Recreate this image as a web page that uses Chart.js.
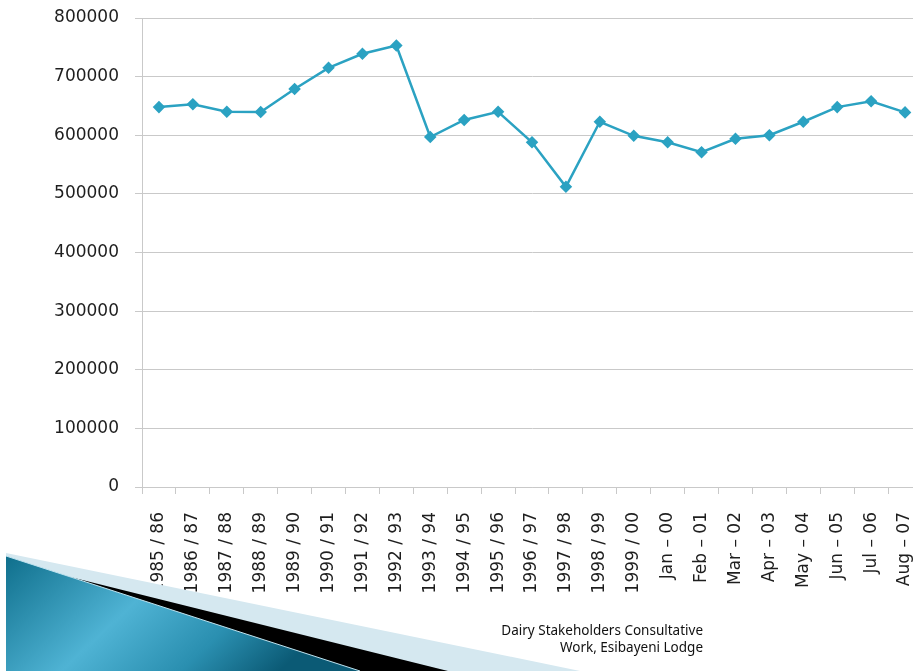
<!DOCTYPE html>
<html>
<head>
<meta charset="utf-8">
<script src="https://cdn.jsdelivr.net/npm/chart.js@4.4.0/dist/chart.umd.min.js"></script>
<style>
  html, body { margin: 0; padding: 0; background: #fff; overflow: hidden; }
  #wrap { position: absolute; left: 0; top: 0; width: 929px; height: 671px; }
  #deco { position: absolute; left: 0; top: 0; width: 913px; height: 671px; pointer-events: none; }
  #note {
    position: absolute; right: 210px; top: 622px;
    font: 13.5px "Noto Sans", sans-serif; color: #111; text-align: right; line-height: 17px;
  }
</style>
</head>
<body>
<div id="wrap"><canvas id="chart"></canvas></div>

<svg id="deco" width="913" height="671">
  <defs>
    <linearGradient id="teal" x1="0" y1="0" x2="1" y2="0.35">
      <stop offset="0" stop-color="#0f6f8c"/>
      <stop offset="0.45" stop-color="#4fb3d4"/>
      <stop offset="0.75" stop-color="#2a8fb0"/>
      <stop offset="1" stop-color="#0b5a75"/>
    </linearGradient>
  </defs>
  <polygon points="6,553 580,671 6,671" fill="#d5e8f0"/>
  <polygon points="6,561 448,671 6,671" fill="#000"/>
  <polygon points="6,556 360,671 6,671" fill="url(#teal)"/>
  <line x1="6" y1="556" x2="360" y2="671" stroke="#bfe3ef" stroke-width="1"/>
</svg>

<div id="note">Dairy Stakeholders Consultative<br>Work, Esibayeni Lodge</div>

<script>
// thin spaces around the separators, as in the source slide
const labels = [
  '1985 / 86', '1986 / 87', '1987 / 88', '1988 / 89', '1989 / 90', '1990 / 91', '1991 / 92',
  '1992 / 93', '1993 / 94', '1994 / 95', '1995 / 96', '1996 / 97', '1997 / 98', '1998 / 99',
  '1999 / 00', 'Jan – 00', 'Feb – 01', 'Mar – 02', 'Apr – 03', 'May – 04', 'Jun – 05',
  'Jul – 06', 'Aug – 07',
];
const production = [
  648000, 653000, 640000, 639500, 679000, 715000, 739000,
  753000, 597000, 626000, 640000, 588000, 512000, 623000,
  599000, 588000, 571000, 594000, 600000, 623000, 648000,
  658000, 639000,
];
const yMin = 0;
const yMax = 800000;
const yStep = 100000;

const lineColor = '#2ba2c2';
const gridColor = '#c9c9c9';
const textColor = '#1e1e1e';

new Chart(document.getElementById('chart'), {
  type: 'line',
  data: {
    labels,
    datasets: [{
      data: production,
      borderColor: lineColor,
      backgroundColor: lineColor,
      borderWidth: 2.5,
      pointStyle: 'rectRot',
      pointRadius: 4.5,
      pointHoverRadius: 4.5,
      tension: 0,
      fill: false,
    }],
  },
  options: {
    responsive: true,
    maintainAspectRatio: false,
    animation: false,
    layout: { padding: { top: 18, right: 0, left: 0, bottom: 0 } },
    plugins: {
      legend: { display: false },
      tooltip: { enabled: false },
    },
    scales: {
      x: {
        offset: true,
        grid: {
          offset: true,
          drawOnChartArea: false,
          drawTicks: true,
          tickLength: 7,
          color: gridColor,
        },
        border: { color: gridColor },
        ticks: {
          minRotation: 90,
          maxRotation: 90,
          autoSkip: false,
          padding: 18,
          color: textColor,
          font: { family: 'DejaVu Sans', size: 17 },
        },
        afterFit: s => { s.height = 184; s.paddingRight = 0; },
      },
      y: {
        min: yMin,
        max: yMax,
        grid: {
          color: gridColor,
          tickLength: 7,
        },
        border: { color: gridColor },
        ticks: {
          stepSize: yStep,
          padding: 16,
          color: textColor,
          font: { family: 'DejaVu Sans', size: 17 },
          callback: v => String(v),
        },
        afterFit: s => { s.width = 142; s.paddingTop = 0; s.paddingBottom = 0; },
      },
    },
  },
});
</script>
</body>
</html>
